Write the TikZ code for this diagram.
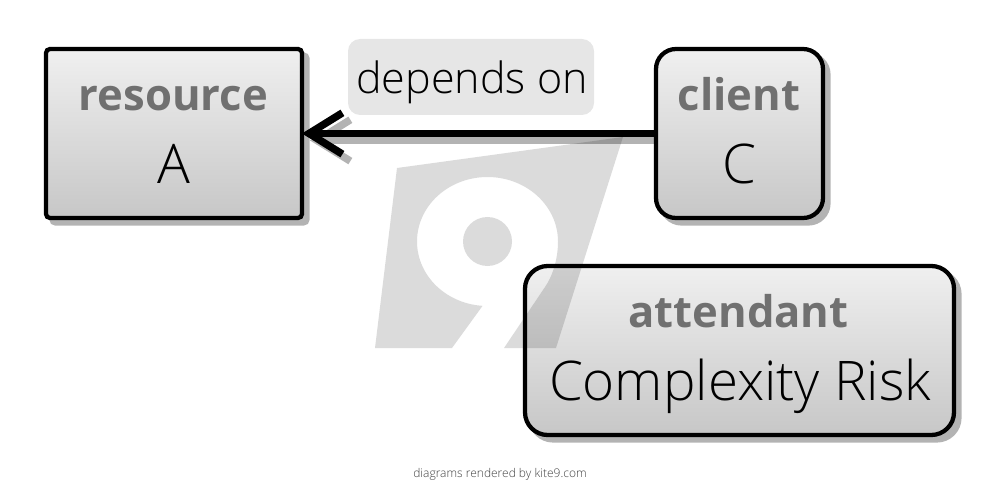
\documentclass[tikz,border=0pt]{standalone}
\usepackage{fontspec}
\usetikzlibrary{arrows.meta,shadows}
\setmainfont{Open Sans}
\newfontfamily\lightfont{Open Sans Light}
\definecolor{shadowgrey}{HTML}{B3B3B3}
\definecolor{titlegrey}{HTML}{707070}
\definecolor{labelgrey}{HTML}{E6E6E6}
\tikzset{
  box/.style={draw=black,line width=3.2pt,outer sep=0pt,inner sep=0pt,top color=white!94!black,bottom color=white!78!black,
    general shadow={fill=shadowgrey,draw=shadowgrey,shadow xshift=4.1pt,shadow yshift=-4.1pt}},
  titletext/.style={anchor=base,inner sep=0pt,text=titlegrey,font=\fontsize{32.7}{36}\selectfont\bfseries},
  bodytext/.style={anchor=base,inner sep=0pt,text=black,font=\fontsize{41}{48}\selectfont\lightfont},
  labeltext/.style={fill=labelgrey,rounded corners=9pt,inner sep=0pt,minimum width=184.5pt,minimum height=57pt,outer sep=0pt},
  conn/.style={line width=5.6pt,-{Straight Barb[length=25pt,width=31pt,line width=5.6pt]}},
  logofill/.style={fill=black,fill opacity=.14,draw=none},
}
\begin{document}
\begin{tikzpicture}[x=0.75pt,y=-0.75pt]
\useasboundingbox (0,0) rectangle (1000,481);
\coordinate (resourceedge) at (303,133.5);
\coordinate (clientedge) at (656,133.5);
\draw[conn,shadowgrey,transform canvas={xshift=5.2pt,yshift=-5.2pt}] (clientedge) -- (resourceedge);
\node[box,rounded corners=3pt,minimum width=192pt,minimum height=126.75pt] (resource) at (174,133.5) {};
\node[box,rounded corners=15pt,minimum width=125.25pt,minimum height=126.75pt] (client) at (739.5,133.5) {};
\node[box,rounded corners=17pt,minimum width=321.75pt,minimum height=126.75pt] (attendant) at (739.5,350.5) {};
\draw[conn,black] (client.west) -- (resource.east);
\node[labeltext,anchor=north west] (label) at (348,39) {};
\node[anchor=base,inner sep=0pt,font=\fontsize{32.3}{40}\selectfont\lightfont] (labeltxt) at (472,94) {depends on};
\node[titletext] (resourcet) at (173.5,110.5) {resource};
\node[bodytext] (resourceb) at (173.5,183.5) {A};
\node[titletext] (clientt) at (739,110.5) {client};
\node[bodytext] (clientb) at (739.5,183.5) {C};
\node[titletext] (attendantt) at (738.5,327.5) {attendant};
\node[bodytext] (attendantb) at (740,400.5) {Complexity Risk};
\node[anchor=base,inner sep=0pt,text=black!75,font=\fontsize{9}{11}\selectfont\lightfont] (footer) at (500,477) {diagrams rendered by kite9.com};
\path[logofill] (397,168) -- (623,137) -- (556,348) -- (504,348) -- (545,287)
  .. controls (552,277) and (558,260) .. (558,241.5)
  -- plot[domain=0:-266,samples=90] ({487.5+70.5*cos(\x)},{241.5+64.5*sin(\x)})
  -- (452,348) -- (375,348) -- cycle;
\path[logofill] (487.5,241.5) circle[radius=24.5];
\end{tikzpicture}
\end{document}
